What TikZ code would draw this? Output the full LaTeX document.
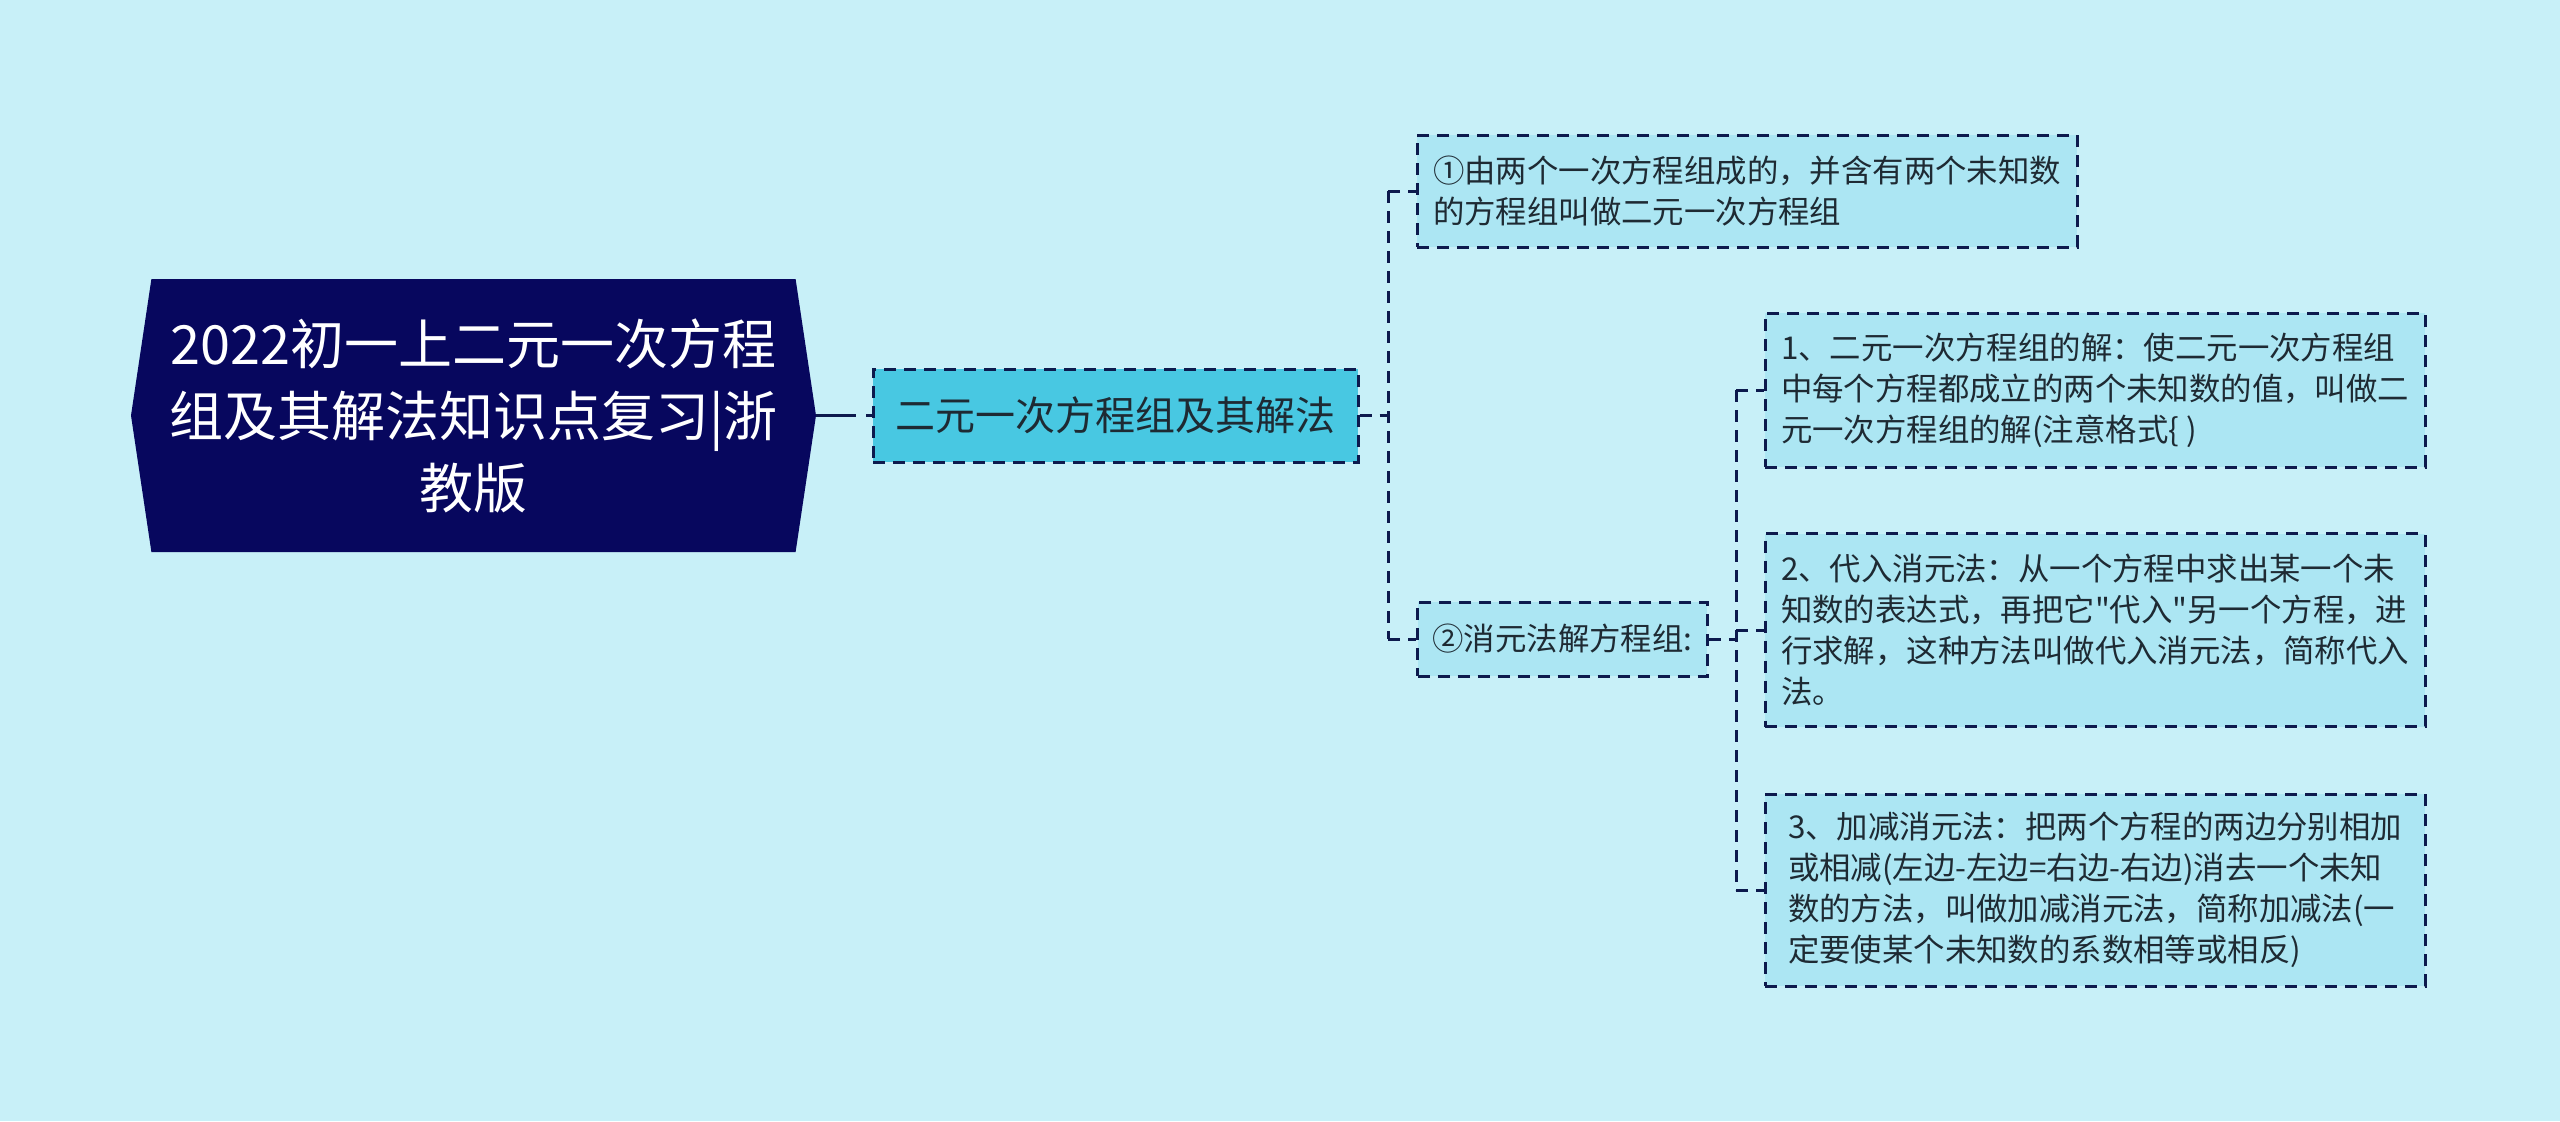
\documentclass[tikz,border=0pt]{standalone}
\usepackage{fontspec}
\setmainfont{Noto Sans CJK SC}
\newfontfamily\cjkfont{Noto Sans CJK SC}
\usetikzlibrary{shapes.symbols,positioning}
\definecolor{bgcyan}{HTML}{C8F0F8}
\definecolor{leafcyan}{HTML}{ACE6F3}
\definecolor{midcyan}{HTML}{48C8E2}
\definecolor{rootnavy}{HTML}{07075E}
\definecolor{linenavy}{HTML}{0D1A4D}
\definecolor{textdark}{HTML}{1E2A33}
\newcommand{\rootfont}{\cjkfont\fontsize{27pt}{36pt}\selectfont}
\newcommand{\midfont}{\cjkfont\fontsize{20pt}{26pt}\selectfont}
\newcommand{\leaffont}{\cjkfont\fontsize{15.7pt}{20.5pt}\selectfont}

\begin{document}
\begin{tikzpicture}[x=0.5pt, y=-0.5pt,
  link/.style={draw=linenavy, line width=1.5pt, dash pattern=on 6pt off 4pt},
  rootlink/.style={draw=linenavy, line width=1.5pt, dash pattern=on 20pt off 5pt},
  rootbox/.style={shape=signal, signal to=west and east, signal pointer angle=163,
    fill=rootnavy, text=white, font=\rootfont, align=center,
    minimum width=342.5pt, minimum height=136.5pt, inner sep=0pt},
  midbox/.style={link, fill=midcyan, text=textdark, font=\midfont,
    minimum width=242.5pt, minimum height=46.5pt, inner sep=0pt},
  leaf/.style={link, fill=leafcyan, text=textdark, font=\leaffont, align=left,
    inner xsep=7.5pt, inner ysep=0pt}]

  % background and margins
  \fill[bgcyan] (0,0) rectangle (2560,1121);
  \useasboundingbox (0,0) rectangle (2560,1121);

  % Define coordinates for nodes
  \node[rootbox] (root) at (473.5, 415.5) {2022初一上二元一次方程\\组及其解法知识点复习|浙\\教版};
  \node[midbox] (mid) at (1115.5, 415.5) {二元一次方程组及其解法};
  \node[leaf, minimum width=330pt, minimum height=56pt] (def) at (1747, 191)
    {①由两个一次方程组成的，并含有两个未知数\\的方程组叫做二元一次方程组};
  \node[leaf, minimum height=37pt] (elim) at (1562.5, 639) {②消元法解方程组:};
  \node[leaf, minimum width=330pt, minimum height=96.5pt] (subst) at (2095, 630)
    {2、代入消元法：从一个方程中求出某一个未\\知数的表达式，再把它"代入"另一个方程，进\\行求解，这种方法叫做代入消元法，简称代入\\法。};
  \node[leaf, minimum width=330pt, minimum height=77pt] (sol) at (2095, 390)
    {1、二元一次方程组的解：使二元一次方程组\\中每个方程都成立的两个未知数的值，叫做二\\元一次方程组的解(注意格式\{ )};
  \node[leaf, minimum width=330pt, minimum height=96pt] (addsub) at (2095, 890)
    {3、加减消元法：把两个方程的两边分别相加\\或相减(左边-左边=右边-右边)消去一个未知\\数的方法，叫做加减消元法，简称加减法(一\\定要使某个未知数的系数相等或相反)};
  \coordinate (j1) at (1388, 415.5);
  \coordinate (j2) at (1736, 639);

  % Draw connectors between nodes
  \draw[rootlink] (root.east) -- (mid.west);
  \draw[link] (mid.east) -- (j1);
  \draw[link] (j1 |- def.west) -- (j1 |- elim.west);
  \draw[link] (j1 |- def.west) -- (def.west);
  \draw[link] (j1 |- elim.west) -- (elim.west);
  \draw[link] (elim.east) -- (j2);
  \draw[link] (j2 |- sol.west) -- (j2 |- addsub.west);
  \foreach \n in {sol, subst, addsub}
    \draw[link] (j2 |- \n.west) -- (\n.west);
\end{tikzpicture}
\end{document}
